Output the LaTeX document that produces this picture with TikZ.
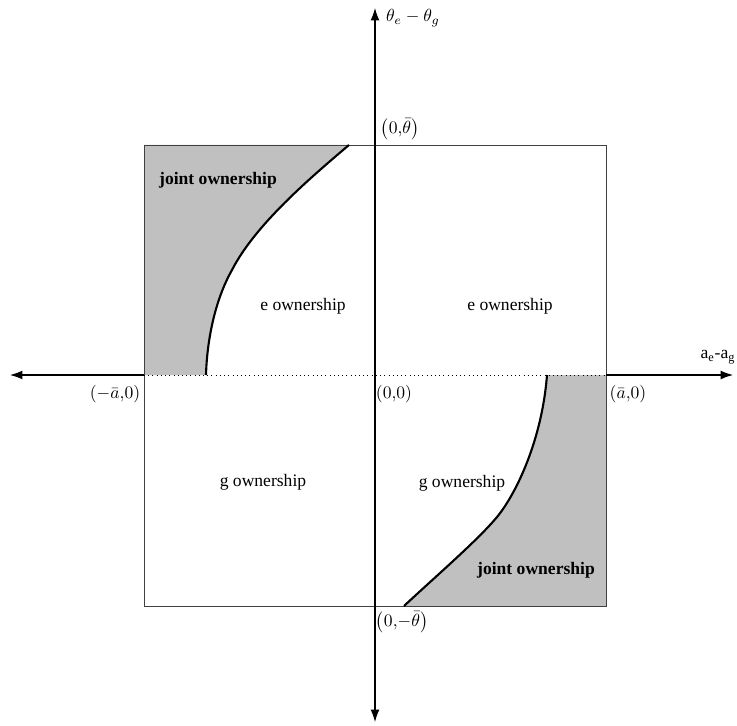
\documentclass[tikz,border=0pt]{standalone}
\usepackage{fontspec}
\setmainfont{Liberation Serif}
\usetikzlibrary{arrows.meta}

\begin{document}
\begin{tikzpicture}[x=0.02cm,y=-0.02cm,>={Latex[length=7pt,width=5pt]},font=\fontsize{10}{12}\selectfont]
\definecolor{joint}{RGB}{192,192,192}
\useasboundingbox (0,0) rectangle (737,726);
% shaded joint-ownership regions
\path[fill=joint] (144,145)--(349,145)
 ..controls(310,178)and(255,225)..(232,270)
 ..controls(215,300)and(207,340)..(206,375)--(144,375)--cycle;
\path[fill=joint] (404,606)
 ..controls(435,577)and(478,540)..(497,517)
 ..controls(516,494)and(542,440)..(547,375)--(606,375)--(606,606)--cycle;
\draw[black!75,thin] (144,145) rectangle (606,606);
\draw[dotted,thin] (144,375)--(606,375);
% axes
\coordinate (xl) at (144,375);
\coordinate (xr) at (606,375);
\coordinate (yb) at (375,722);
\coordinate (yt) at (375,8);
\draw[->,semithick] (xl)--(10,375);
\draw[->,semithick] (xr)--(733,375);
\draw[<->,semithick] (yb)--(yt);
% boundary curves
\draw[line width=1.2pt] (349,145)
 ..controls(310,178)and(255,225)..(232,270)
 ..controls(215,300)and(207,340)..(206,375);
\draw[line width=1.2pt] (404,606)
 ..controls(435,577)and(478,540)..(497,517)
 ..controls(516,494)and(542,440)..(547,375);
% labels
\node[anchor=west] (thetaLbl) at (380,18) {$\theta_e-\theta_g$};
\node[inner sep=1pt] (topLbl) at (400,129) {$\left(0{,}\bar\theta\right)$};
\node[font=\fontsize{10}{12}\selectfont\bfseries] (jointTL) at (218,180) {joint ownership};
\node (eLeft) at (303,306) {e ownership};
\node (eRight) at (510,306) {e ownership};
\node (axLbl) at (718,357) {a$_{\mathrm{e}}$-a$_{\mathrm{g}}$};
\node[inner sep=1pt] (negA) at (115,394) {$\left(-\bar a{,}0\right)$};
\node[inner sep=1pt] (origin) at (394,394) {$\left(0{,}0\right)$};
\node[inner sep=1pt] (posA) at (628,394) {$\left(\bar a{,}0\right)$};
\node (gLeft) at (263,482) {g ownership};
\node (gRight) at (462,483) {g ownership};
\node[font=\fontsize{10}{12}\selectfont\bfseries] (jointBR) at (536,570) {joint ownership};
\node[inner sep=1pt] (botLbl) at (402,622) {$\left(0{,}{-}\bar\theta\right)$};
\end{tikzpicture}
\end{document}
